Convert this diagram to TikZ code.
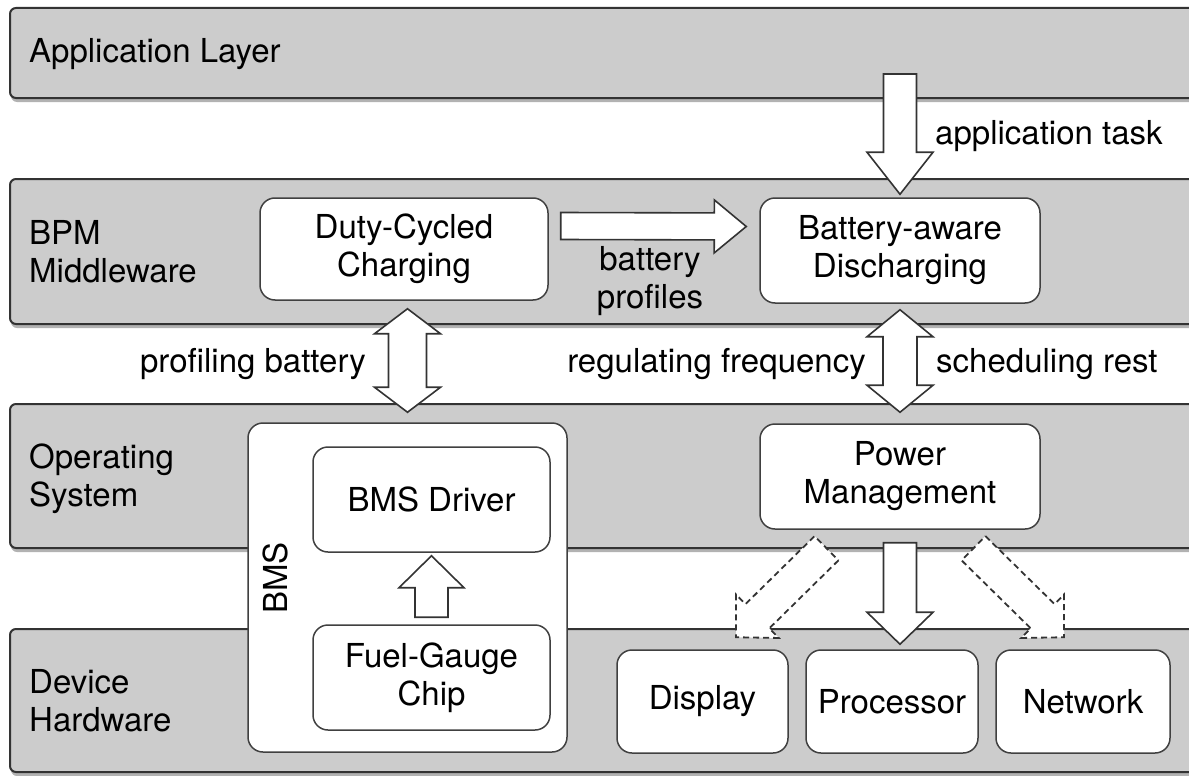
\documentclass[tikz,border=0pt]{standalone}
\usepackage{fontspec}
\setmainfont{TeX Gyre Heros}
\usetikzlibrary{calc,shadows}
\newcommand\lblfont{\fontsize{33}{38}\selectfont}
\tikzset{
 layer/.style={draw=black!80, line width=2pt, fill=black!20, rounded corners=6pt, inner sep=0pt,
   drop shadow={shadow xshift=1pt, shadow yshift=-4pt, opacity=0.3, fill=black}},
 box/.style={draw=black!75, line width=1.5pt, fill=white, rounded corners=15pt, inner sep=0pt,
   align=center, font=\lblfont, text=black},
 lbl/.style={inner sep=0pt, align=left, font=\lblfont, text=black},
 barr/.style={draw=black!80, line width=1.6pt, fill=white, line join=miter},
 dasharr/.style={dash pattern=on 6pt off 4pt, line width=1.8pt}
}
% single block arrow: [opts]{tail}{tip}{shaft half}{head half}{head length}
\newcommand\blockarrow[6][]{%
 \coordinate (bah) at ($(#3)!#6!(#2)$);
 \draw[barr,#1] ($(#2)!#4!90:(#3)$) -- ($(bah)!#4!90:(#3)$) -- ($(bah)!#5!90:(#3)$) -- (#3)
   -- ($(bah)!#5!-90:(#3)$) -- ($(bah)!#4!-90:(#3)$) -- ($(#2)!#4!-90:(#3)$) -- cycle;}
% double block arrow
\newcommand\dblarrow[6][]{%
 \coordinate (dbh1) at ($(#2)!#6!(#3)$);
 \coordinate (dbh2) at ($(#3)!#6!(#2)$);
 \draw[barr,#1] (#2) -- ($(dbh1)!#5!90:(#3)$) -- ($(dbh1)!#4!90:(#3)$) -- ($(dbh2)!#4!90:(#3)$)
   -- ($(dbh2)!#5!90:(#3)$) -- (#3) -- ($(dbh2)!#5!-90:(#3)$) -- ($(dbh2)!#4!-90:(#3)$)
   -- ($(dbh1)!#4!-90:(#3)$) -- ($(dbh1)!#5!-90:(#3)$) -- cycle;}
\begin{document}
\begin{tikzpicture}[x=1pt,y=-1pt]
\clip (0,0) rectangle (1189,776);
\fill[white] (0,0) rectangle (1189,776);
% layers
\node[layer, anchor=north west, minimum width=1200pt, minimum height=90pt] (app) at (9,7) {};
\node[layer, anchor=north west, minimum width=1200pt, minimum height=145pt] (mid) at (9,178) {};
\node[layer, anchor=north west, minimum width=1200pt, minimum height=144pt] (os) at (9,403) {};
\node[layer, anchor=north west, minimum width=1200pt, minimum height=143pt] (hw) at (9,628) {};
\node[lbl, anchor=west] (lapp) at (29,54) {Application Layer};
\node[lbl, anchor=west] (lmid) at (29,252) {BPM\\Middleware};
\node[lbl, anchor=west] (los) at (29,479) {Operating\\System};
\node[lbl, anchor=west] (lhw) at (29,701) {Device\\Hardware};
% boxes
\node[box, minimum width=288pt, minimum height=102pt] (duty) at (404,249) {Duty-Cycled\\Charging};
\node[box, minimum width=280pt, minimum height=105pt] (dis) at (900,250.5) {Battery-aware\\Discharging};
\node[box, minimum width=280pt, minimum height=105pt] (pm) at (900,476.5) {Power\\Management};
\node[box, minimum width=319pt, minimum height=329pt] (bms) at (407.5,587.5) {};
\node[lbl, rotate=90] (bmsl) at (275,578) {BMS};
\node[box, minimum width=237pt, minimum height=105pt] (drv) at (431.5,499.5) {BMS Driver};
\node[box, minimum width=237pt, minimum height=105pt] (fg) at (431.5,677.5) {Fuel-Gauge\\Chip};
\node[box, minimum width=171pt, minimum height=103pt] (disp) at (702.5,701.5) {Display};
\node[box, minimum width=172pt, minimum height=103pt] (proc) at (892,701.5) {Processor};
\node[box, minimum width=174pt, minimum height=103pt] (net) at (1083,701.5) {Network};
% connector labels
\node[lbl, anchor=west] (tapp) at (935,136) {application task};
\node[lbl, align=center] (tbp) at (650,281) {battery\\profiles};
\node[lbl, anchor=east] (tprof) at (366,364) {profiling battery};
\node[lbl, anchor=east] (treg) at (866,364) {regulating frequency};
\node[lbl, anchor=west] (tsch) at (936,364) {scheduling rest};
% connector end points
\coordinate (appA) at ($(app.south -| dis.north)+(0,-25)$);
\coordinate (appB) at ($(dis.north)+(0,-3)$);
\coordinate (bpA) at ($(duty.east)+(12,-23)$);
\coordinate (bpB) at ($(dis.west)+(-13,-24)$);
\coordinate (prA) at ($(bms.north |- duty.south)+(0,8)$);
\coordinate (prB) at ($(bms.north)+(0,-10)$);
\coordinate (rgA) at ($(dis.south)+(0,6)$);
\coordinate (rgB) at ($(pm.north)+(0,-11)$);
\coordinate (fgA) at ($(fg.north)+(0,-7)$);
\coordinate (fgB) at ($(drv.south)+(0,3)$);
\coordinate (pcA) at ($(pm.south)+(0,13)$);
\coordinate (pcB) at ($(proc.north -| pm.south)+(0,-5)$);
\coordinate (dlA) at ($(pm.south)+(-73.5,18.5)$);
\coordinate (dlB) at ($(disp.north)+(33.5,-12)$);
\coordinate (drA) at ($(pm.south)+(73.5,18.5)$);
\coordinate (drB) at ($(net.north)+(-19,-12)$);
% connectors
\blockarrow{appA}{appB}{16.5pt}{33pt}{42pt}
\blockarrow{bpA}{bpB}{13.5pt}{26.5pt}{32pt}
\dblarrow{prA}{prB}{19pt}{33pt}{25pt}
\dblarrow{rgA}{rgB}{17pt}{33pt}{27pt}
\blockarrow{fgA}{fgB}{16.5pt}{32.5pt}{32pt}
\blockarrow{pcA}{pcB}{16.5pt}{33pt}{32pt}
\blockarrow[dasharr]{dlA}{dlB}{17pt}{30.5pt}{30pt}
\blockarrow[dasharr]{drA}{drB}{17pt}{30.5pt}{30pt}
\end{tikzpicture}
\end{document}
